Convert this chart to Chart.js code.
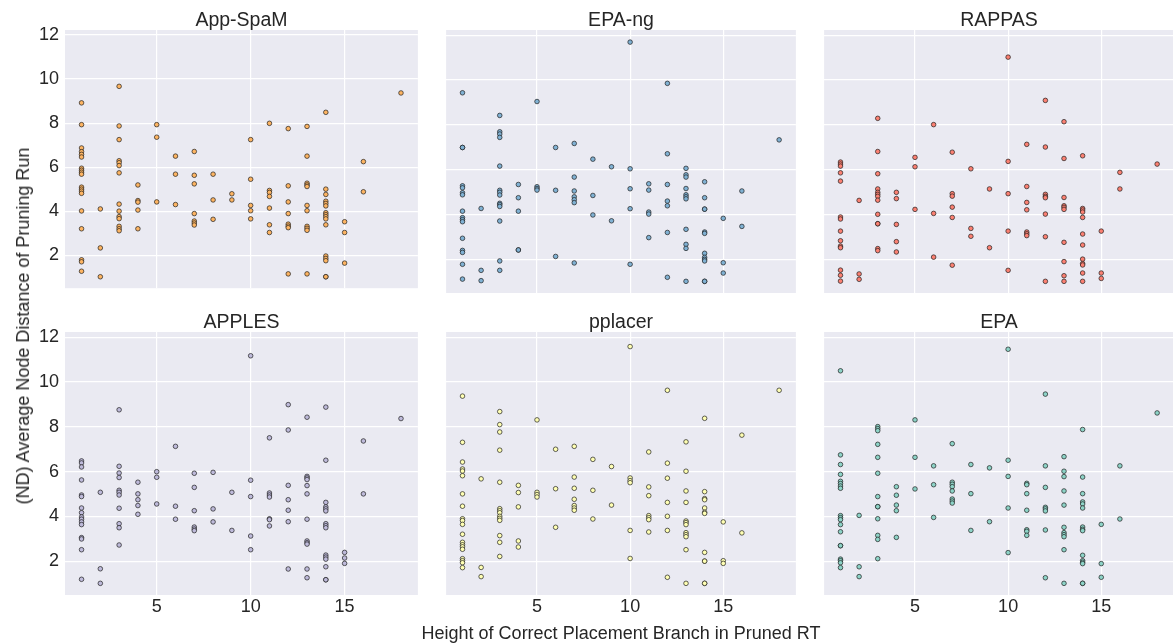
<!DOCTYPE html>
<html>
<head>
<meta charset="utf-8">
<title>Average node distance by placement height</title>
<script src="https://cdn.jsdelivr.net/npm/chart.js"></script>
<style>
  html, body { margin: 0; padding: 0; background: #fff; }
  body { width: 1173px; height: 643px; position: relative; overflow: hidden; font-family: "Liberation Sans", Arial, sans-serif; color: #262626; }
  .panel { position: absolute; }
  .axis-label { position: absolute; font-size: 18px; line-height: 1; white-space: nowrap; transform: translate(-50%, -50%); }
  #ylabel { left: 23px; top: 326px; transform: translate(-50%, -50%) rotate(-90deg); }
  #xlabel { left: 621px; top: 633px; }
</style>
</head>
<body>

<div class="panel" id="p0"><canvas id="c0"></canvas></div>
<div class="panel" id="p1"><canvas id="c1"></canvas></div>
<div class="panel" id="p2"><canvas id="c2"></canvas></div>
<div class="panel" id="p3"><canvas id="c3"></canvas></div>
<div class="panel" id="p4"><canvas id="c4"></canvas></div>
<div class="panel" id="p5"><canvas id="c5"></canvas></div>

<div class="axis-label" id="ylabel">(ND) Average Node Distance of Pruning Run</div>
<div class="axis-label" id="xlabel">Height of Correct Placement Branch in Pruned RT</div>

<script>
// height of the correct branch (x); every tool has runs at these heights
const heights = [1, 2, 3, 4, 5, 6, 7, 8, 9, 10, 11, 12, 13, 14, 15, 16, 18];

// ND values per height, one inner list per entry of `heights`
const appSpamND = [
  [8.92, 7.93, 6.87, 6.70, 6.58, 6.46, 5.95, 5.86, 5.77, 5.68, 5.09, 5.00, 4.91, 4.81, 4.01, 3.20, 1.79, 1.70, 1.27],
  [4.10, 2.33, 1.02],
  [9.67, 7.87, 7.25, 6.29, 6.20, 6.07, 5.74, 4.32, 4.00, 3.75, 3.66, 3.31, 3.20, 3.11],
  [5.19, 4.48, 4.41, 4.05, 3.20],
  [7.93, 7.36, 4.42],
  [6.50, 5.68, 4.30],
  [6.71, 5.63, 5.24, 3.89, 3.55, 3.46, 3.37],
  [5.68, 4.51, 3.63],
  [4.79, 4.51],
  [7.25, 5.45, 4.26, 4.02, 3.65],
  [7.99, 4.94, 4.85, 4.67, 4.14, 3.38, 3.03],
  [7.75, 5.15, 4.42, 3.89, 3.41, 3.32, 3.25, 1.15],
  [7.85, 6.50, 5.27, 5.19, 5.12, 4.26, 4.02, 3.31, 3.22, 3.13, 1.15],
  [8.49, 5.00, 4.76, 4.45, 4.35, 4.24, 3.93, 3.84, 3.75, 3.65, 3.38, 1.96, 1.85, 1.75, 1.02, 1.02],
  [3.52, 3.03, 1.64],
  [6.25, 4.88],
  [9.37]
];

const epaNgND = [
  [9.43, 6.99, 6.99, 5.28, 5.19, 4.97, 4.88, 4.15, 3.86, 3.77, 3.68, 2.94, 2.40, 2.31, 1.78, 1.12],
  [4.27, 1.51, 1.05],
  [8.42, 7.69, 7.59, 7.44, 6.16, 5.08, 4.99, 4.87, 4.50, 4.44, 4.36, 3.71, 1.93, 1.51],
  [5.34, 4.75, 4.15, 2.42, 2.42],
  [9.04, 5.24, 5.16, 5.09],
  [6.99, 5.08, 2.13],
  [7.17, 5.67, 5.05, 4.79, 4.66, 4.53, 1.84],
  [6.47, 4.85, 3.98],
  [6.13, 3.72],
  [11.69, 6.04, 5.15, 4.26, 1.78],
  [5.37, 5.09, 4.11, 4.02, 2.97],
  [9.85, 6.71, 5.34, 4.60, 4.39, 3.20, 1.20],
  [6.06, 5.77, 5.67, 5.16, 4.88, 4.79, 4.70, 3.34, 2.67, 2.49, 1.02],
  [5.46, 4.75, 4.24, 4.24, 3.22, 3.16, 2.27, 2.09, 2.00, 1.93, 1.02, 1.02],
  [3.83, 1.85, 1.39],
  [5.05, 3.47],
  [7.33]
];

const rappasND = [
  [6.34, 6.25, 6.16, 5.86, 5.49, 3.89, 3.80, 3.26, 2.83, 2.59, 2.52, 1.52, 1.29, 1.03],
  [4.63, 1.35, 1.11],
  [8.29, 6.81, 5.82, 5.14, 4.99, 4.90, 4.81, 4.64, 4.01, 3.59, 3.59, 2.48, 2.39],
  [4.99, 4.71, 3.56, 2.79, 2.33],
  [6.55, 6.13, 4.23],
  [8.01, 4.05, 2.10],
  [6.78, 4.93, 4.82, 4.33, 3.87, 1.74],
  [6.04, 3.38, 3.03],
  [5.14, 2.52],
  [11.02, 6.37, 4.93, 3.26, 1.51],
  [7.13, 5.25, 4.54, 4.21, 3.22, 3.14, 3.06],
  [9.09, 7.01, 4.90, 4.81, 4.75, 4.02, 3.01, 1.02],
  [8.14, 6.50, 4.76, 4.39, 4.32, 4.23, 2.76, 1.90, 1.27, 1.02],
  [6.62, 4.27, 4.20, 4.11, 3.87, 3.13, 2.64, 2.01, 1.81, 1.75, 1.39, 1.02],
  [3.26, 1.39, 1.15],
  [5.88, 5.14],
  [6.25]
];

const applesND = [
  [6.48, 6.39, 6.21, 5.63, 4.96, 4.89, 4.38, 4.17, 3.98, 3.88, 3.76, 3.64, 3.06, 3.00, 2.52, 1.20],
  [5.08, 1.67, 1.02],
  [8.76, 6.24, 5.94, 5.74, 5.17, 5.08, 4.96, 4.37, 3.68, 3.50, 2.73],
  [5.53, 5.01, 4.75, 4.49, 4.10],
  [6.00, 5.75, 4.56],
  [7.13, 4.46, 3.88],
  [5.93, 5.30, 4.26, 3.53, 3.44, 3.37],
  [5.97, 4.34, 3.76],
  [5.08, 3.38],
  [11.17, 5.62, 4.89, 3.13, 2.52],
  [7.51, 5.05, 4.96, 4.87, 3.90, 3.86, 3.58],
  [8.99, 7.86, 5.39, 4.75, 4.28, 3.77, 1.66],
  [8.43, 5.79, 5.72, 5.65, 5.38, 5.01, 3.88, 2.91, 2.83, 2.77, 1.66, 1.27],
  [8.88, 6.51, 4.63, 4.43, 4.34, 4.25, 3.68, 3.59, 3.50, 2.28, 2.19, 2.10, 1.76, 1.18, 1.18],
  [2.40, 2.15, 1.91],
  [7.37, 5.01],
  [8.37]
];

const pplacerND = [
  [9.37, 7.31, 6.43, 6.12, 6.03, 5.82, 5.01, 4.46, 3.90, 3.82, 3.65, 3.21, 2.85, 2.74, 2.65, 2.54, 2.12, 2.03, 1.94, 1.72],
  [5.68, 1.73, 1.32],
  [8.68, 8.10, 7.77, 6.96, 5.53, 4.35, 4.26, 4.17, 4.01, 3.92, 3.83, 3.15, 2.85, 2.22],
  [5.39, 5.07, 4.43, 2.91, 2.64],
  [8.31, 5.08, 4.98, 4.87],
  [7.00, 5.24, 3.52],
  [7.13, 5.76, 5.26, 4.77, 4.49, 4.38, 4.28],
  [6.55, 5.17, 3.89],
  [6.23, 4.51],
  [11.58, 5.72, 5.60, 5.51, 3.38, 2.13],
  [6.88, 5.32, 4.93, 4.04, 3.95, 3.86, 3.31],
  [9.63, 6.38, 5.71, 4.63, 4.01, 3.38, 1.29],
  [7.33, 6.02, 5.14, 4.63, 3.80, 3.73, 3.64, 3.28, 3.19, 3.10, 2.52, 1.02],
  [8.38, 5.11, 4.80, 4.75, 4.38, 4.19, 4.14, 2.40, 2.01, 2.01, 1.02, 1.02],
  [3.76, 2.03, 1.91],
  [7.63, 3.27],
  [9.63]
];

const epaND = [
  [10.50, 6.75, 6.32, 5.88, 5.57, 5.47, 5.36, 5.26, 4.04, 3.95, 3.86, 3.64, 3.32, 2.70, 2.70, 2.10, 2.03, 1.94, 1.72],
  [4.05, 1.76, 1.32],
  [8.01, 7.92, 7.83, 7.22, 6.64, 5.93, 4.89, 4.44, 4.44, 3.90, 3.16, 2.98, 2.12],
  [5.33, 4.95, 4.51, 4.26, 3.07],
  [8.31, 6.64, 5.23],
  [6.26, 5.42, 3.96],
  [7.25, 5.53, 5.44, 5.33, 5.14, 4.78, 4.69, 4.60],
  [6.32, 5.02, 3.38],
  [6.17, 3.77],
  [11.46, 6.51, 5.79, 4.38, 2.39],
  [5.48, 5.42, 5.02, 4.28, 3.41, 3.34, 3.16],
  [9.46, 6.26, 5.30, 4.41, 4.34, 4.25, 3.40, 1.27],
  [6.67, 6.02, 5.78, 5.14, 4.51, 3.52, 3.28, 3.19, 3.10, 2.52, 1.02],
  [7.88, 5.76, 5.02, 4.65, 4.56, 4.38, 3.53, 3.43, 3.37, 2.27, 2.03, 1.96, 1.90, 1.02, 1.02],
  [3.65, 1.90, 1.29],
  [6.26, 3.89],
  [8.62]
];

const toolNames = ['App-SpaM', 'EPA-ng', 'RAPPAS', 'APPLES', 'pplacer', 'EPA'];
const toolValues = [appSpamND, epaNgND, rappasND, applesND, pplacerND, epaND];
// Set3 colours
const toolColors = ['#fdb462', '#80b1d3', '#fb8072', '#bebada', '#ffffb3', '#8dd3c7'];

const xTickStep = 5;
const yTickStep = 2;

const FONT = '"Liberation Sans", Arial, sans-serif';
const TEXT = '#262626';

// grid geometry (px)
const plotW = 356, plotH = 263;
const colLeft = [65, 443, 821];
const rowTop = [30, 332];
const yAxisW = 65;   // room for tick labels on the first column
const titleH = 30;   // title block above each plot (10.5 pad + 19.5 line)

// paint the grey plot area before the grid goes on
const plotBackground = {
  id: 'plotBackground',
  beforeDraw(chart) {
    const { ctx, chartArea } = chart;
    ctx.save();
    ctx.fillStyle = '#eaeaf2';
    ctx.fillRect(chartArea.left, chartArea.top, chartArea.width, chartArea.height);
    ctx.restore();
  }
};

function toPoints(groups) {
  const pts = [];
  groups.forEach((ys, i) => {
    ys.forEach(y => pts.push({ x: heights[i], y: y }));
  });
  return pts;
}

toolNames.forEach((name, i) => {
  const row = Math.floor(i / 3);
  const col = i % 3;
  const showY = col === 0;
  const showX = row === 1;
  const axisH = showX ? 30 : 12;

  const box = document.getElementById('p' + i);
  box.style.left = (colLeft[col] - (showY ? yAxisW : 0)) + 'px';
  box.style.top = (rowTop[row] - titleH) + 'px';
  box.style.width = ((showY ? yAxisW : 0) + plotW) + 'px';
  box.style.height = (titleH + plotH + axisH) + 'px';

  new Chart(document.getElementById('c' + i), {
    type: 'scatter',
    data: {
      datasets: [{
        data: toPoints(toolValues[i]),
        backgroundColor: toolColors[i],
        borderColor: 'rgba(25,25,25,0.85)',
        borderWidth: 0.8,
        pointRadius: 2.3,
        pointHoverRadius: 2.3
      }]
    },
    options: {
      responsive: true,
      maintainAspectRatio: false,
      animation: false,
      layout: { padding: 0 },
      plugins: {
        legend: { display: false },
        tooltip: { enabled: false },
        title: {
          display: true,
          text: name,
          fullSize: false,
          color: TEXT,
          font: { family: FONT, size: 19.5, weight: 'normal', lineHeight: 1 },
          padding: { top: 10.5, bottom: 0 }
        }
      },
      scales: {
        x: {
          type: 'linear',
          min: 0.12,
          max: 18.9,
          grid: { color: '#ffffff', lineWidth: 1.2, drawTicks: false },
          border: { display: false },
          ticks: {
            display: showX,
            stepSize: xTickStep,
            includeBounds: false,
            padding: 1,
            color: TEXT,
            font: { family: FONT, size: 18 }
          },
          afterFit: s => { s.height = axisH; }
        },
        y: {
          type: 'linear',
          min: 0.5,
          max: 12.23,
          grid: { color: '#ffffff', lineWidth: 1.2, drawTicks: false },
          border: { display: false },
          ticks: {
            display: showY,
            stepSize: yTickStep,
            includeBounds: false,
            padding: 6,
            color: TEXT,
            font: { family: FONT, size: 18 }
          },
          afterFit: s => { s.width = showY ? yAxisW : 0; }
        }
      }
    },
    plugins: [plotBackground]
  });
});
</script>
</body>
</html>
